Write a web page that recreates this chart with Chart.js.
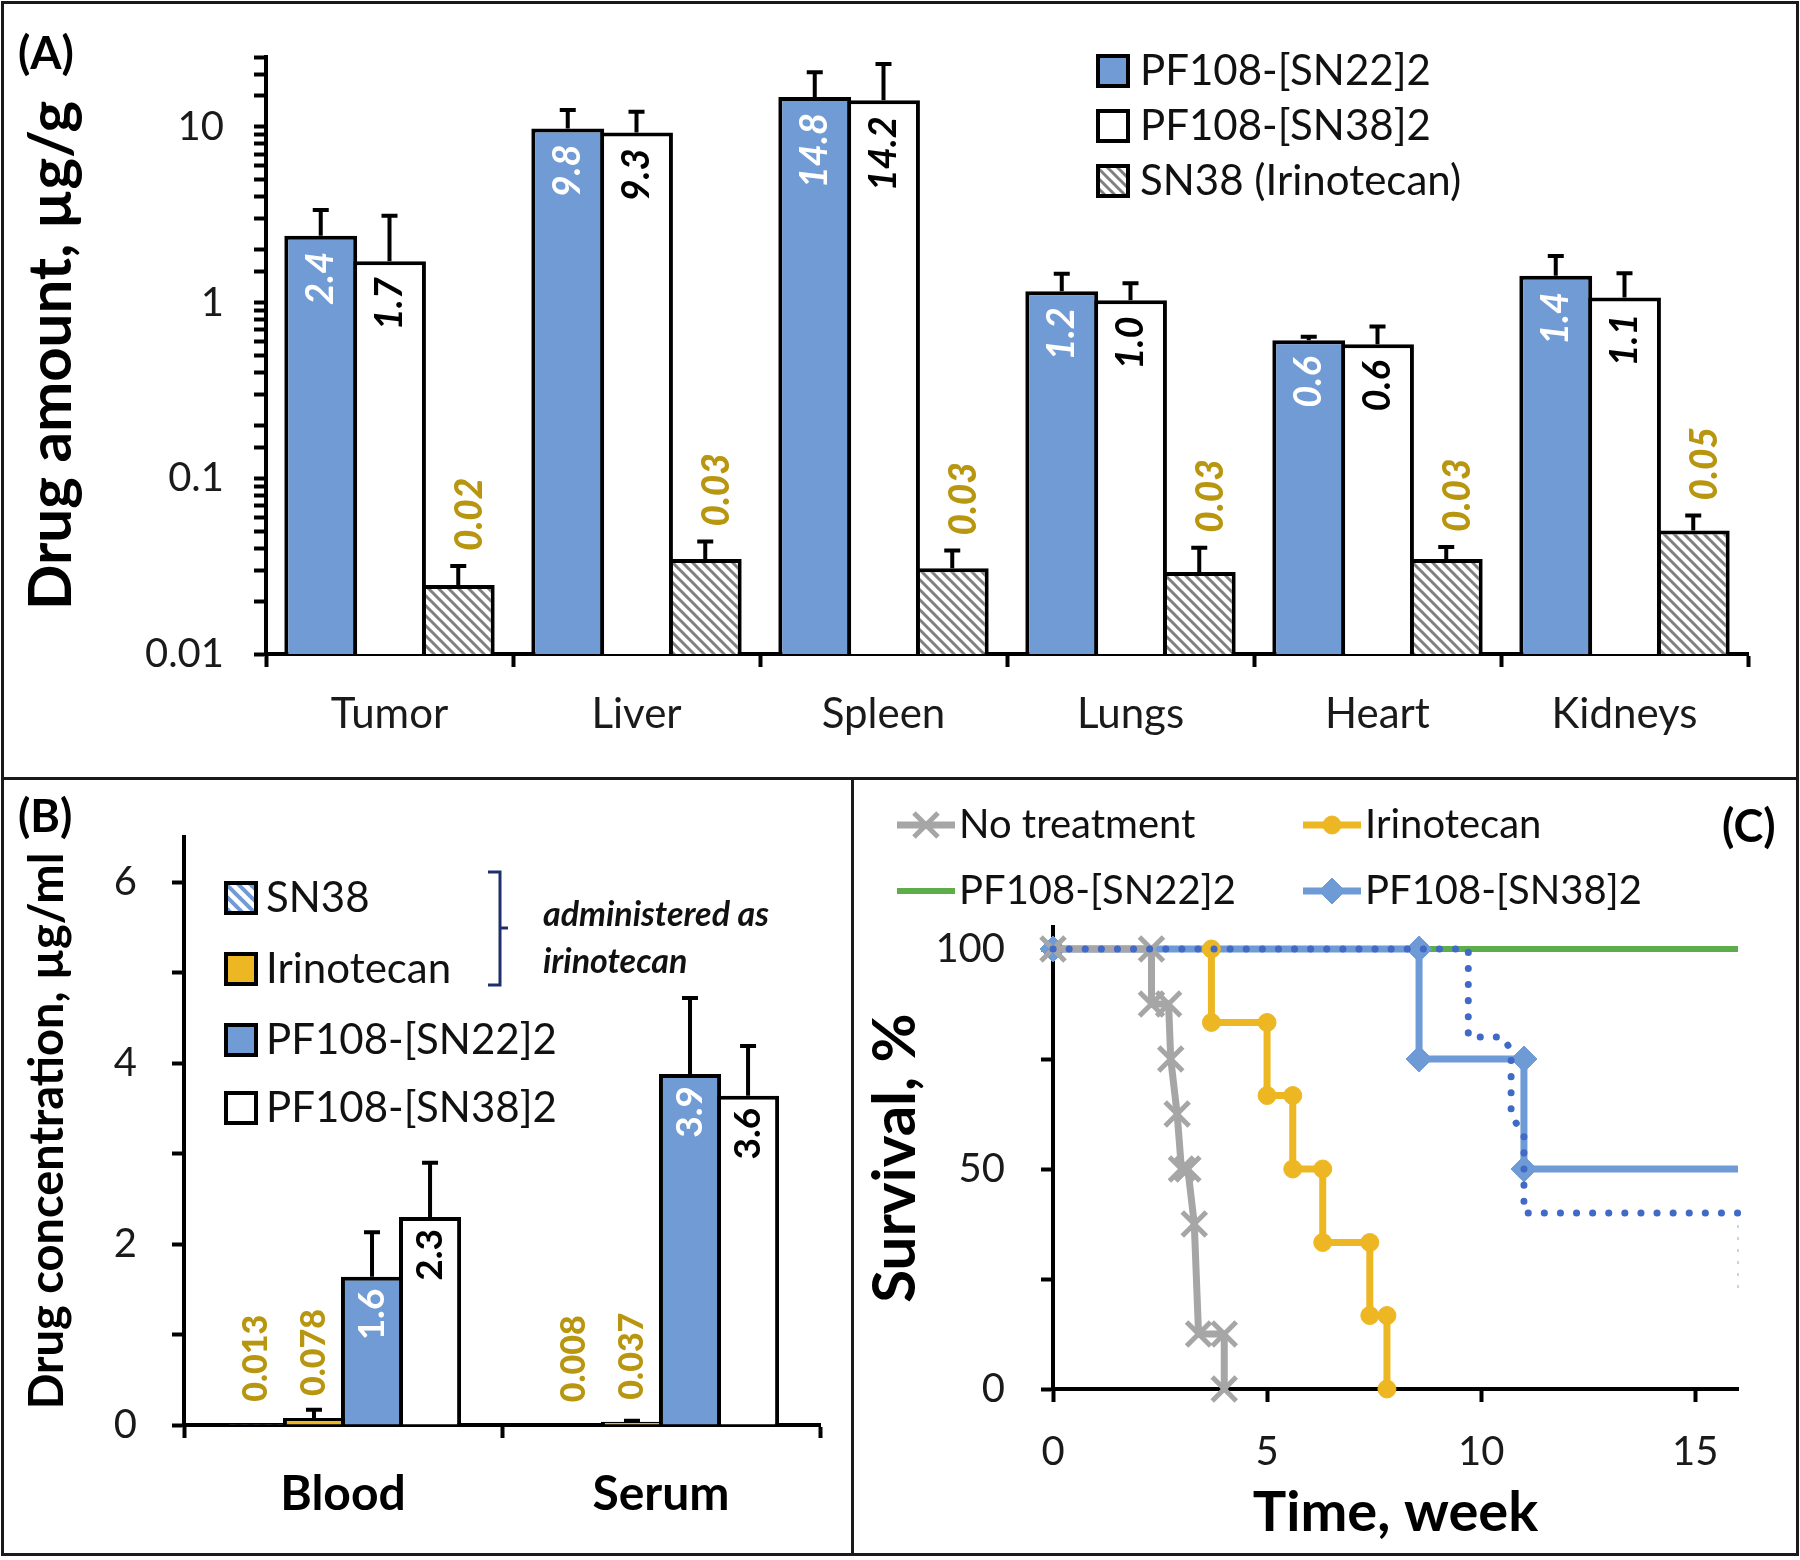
<!DOCTYPE html>
<html>
<head>
<meta charset="utf-8">
<script src="https://cdn.jsdelivr.net/npm/chart.js@4.4.1/dist/chart.umd.min.js"></script>
<style>
html, body { margin: 0; padding: 0; background: #fff; }
#page { position: relative; width: 1800px; height: 1560px; background: #fff; overflow: hidden; }
canvas { position: absolute; }
.frame { position: absolute; border: 3px solid #1a1a1a; box-sizing: border-box; pointer-events: none; }
.tag { position: absolute; font: bold 45px Lato, sans-serif; line-height: 1; color: #000; }
</style>
</head>
<body>
<div id="page">
  <canvas id="chartA" width="1800" height="778" style="left:0;top:0"></canvas>
  <canvas id="chartB" width="851" height="780" style="left:0;top:778px"></canvas>
  <canvas id="chartC" width="949" height="780" style="left:851px;top:778px"></canvas>
  <div class="frame" style="left:1px;top:1px;width:1798px;height:779px"></div>
  <div class="frame" style="left:1px;top:777px;width:853px;height:779px"></div>
  <div class="frame" style="left:851px;top:777px;width:948px;height:779px"></div>
  <div class="tag" style="left:18px;top:30px">(A)</div>
  <div class="tag" style="left:18px;top:793px">(B)</div>
  <div class="tag" style="left:1722px;top:803px">(C)</div>
</div>
<script>
// ---- (A) organ distribution, log scale
const organs = ['Tumor', 'Liver', 'Spleen', 'Lungs', 'Heart', 'Kidneys'];
const seriesA = ['PF108-[SN22]2', 'PF108-[SN38]2', 'SN38 (Irinotecan)'];
const sn22Organ = [2.4, 9.8, 14.8, 1.16, 0.61, 1.42];
const sn22OrganErr = [0.97, 2.7, 5.7, 0.3, 0.03, 0.42];
const sn38Organ = [1.72, 9.3, 14.2, 1.03, 0.58, 1.07];
const sn38OrganErr = [1.4, 2.9, 8.6, 0.26, 0.15, 0.4];
const irinoOrgan = [0.0247, 0.0347, 0.0308, 0.0293, 0.0347, 0.0505];
const irinoOrganErr = [0.007, 0.009, 0.008, 0.011, 0.006, 0.011];
const yTicksA = [0.01, 0.1, 1, 10];

// ---- (B) blood / serum
const fluids = ['Blood', 'Serum'];
const seriesB = ['SN38', 'Irinotecan', 'PF108-[SN22]2', 'PF108-[SN38]2'];
const sn38Fluid = [0.013, 0.008];
const sn38FluidErr = [0, 0];
const irinoFluid = [0.078, 0.037];
const irinoFluidErr = [0.09, 0.01];
const sn22Fluid = [1.64, 3.88];
const sn22FluidErr = [0.49, 0.84];
const pf38Fluid = [2.3, 3.64];
const pf38FluidErr = [0.6, 0.55];
const yTicksB = [0, 2, 4, 6];

// ---- (C) survival
const weeksNone = [0, 2.3, 2.3, 2.7, 2.75, 2.9, 3.0, 3.15, 3.3, 3.4, 4.0, 4.0];
const survNone = [100, 100, 87.5, 87.5, 75, 62.5, 50, 50, 37.5, 12.5, 12.5, 0];
const weeksIrino = [3.7, 3.7, 5.0, 5.0, 5.6, 5.6, 6.3, 6.3, 7.4, 7.4, 7.8, 7.8];
const survIrino = [100, 83.3, 83.3, 66.7, 66.7, 50, 50, 33.3, 33.3, 16.7, 16.7, 0];
const weeksSN22 = [0, 16];
const survSN22 = [100, 100];
const weeksSN38 = [0, 8.55, 8.55, 11, 11, 16];
const survSN38 = [100, 100, 75, 75, 50, 50];
const weeksDotted = [0, 9.7, 9.7, 10.5, 10.7, 10.7, 11, 11, 16];
const survDotted = [100, 100, 80, 80, 77, 62, 58, 40, 40];
const weeksFaint = [16, 16];
const survFaint = [40, 22.5];
const yTicksC = [0, 50, 100];

Chart.defaults.font.family = 'Lato, "Open Sans", sans-serif';
Chart.defaults.color = '#1a1a1a';
Chart.defaults.animation = false;

const BLUE = '#709BD4';
const GOLD = '#EDB723';
const GOLD_TEXT = '#B8960F';

function hatch(fg, bg, size, lw) {
    const c = document.createElement('canvas');
    c.width = c.height = size;
    const g = c.getContext('2d');
    g.fillStyle = bg;
    g.fillRect(0, 0, size, size);
    g.strokeStyle = fg;
    g.lineWidth = lw;
    g.beginPath();
    g.moveTo(-1, -1); g.lineTo(size + 1, size + 1);
    g.moveTo(-1, size - 1); g.lineTo(1, size + 1);
    g.moveTo(size - 1, -1); g.lineTo(size + 1, 1);
    g.stroke();
    return g.createPattern(c, 'repeat');
}

// error bars + rotated value labels
const errorLabels = {
    id: 'errorLabels',
    afterDatasetsDraw(chart) {
        const ctx = chart.ctx, ys = chart.scales.y;
        chart.data.datasets.forEach((ds, di) => {
            const t = ds.tag;
            chart.getDatasetMeta(di).data.forEach((bar, i) => {
                const v = ds.data[i], e = ds.errors[i];
                let top = bar.y;
                if (e > 0) {
                    top = ys.getPixelForValue(v + e);
                    ctx.save();
                    ctx.strokeStyle = '#000';
                    ctx.lineWidth = 4;
                    ctx.beginPath();
                    ctx.moveTo(bar.x, bar.y); ctx.lineTo(bar.x, top);
                    ctx.moveTo(bar.x - 8, top); ctx.lineTo(bar.x + 8, top);
                    ctx.stroke();
                    ctx.restore();
                }
                ctx.save();
                ctx.font = t.font;
                ctx.fillStyle = t.color;
                ctx.textBaseline = 'middle';
                if (t.inside) {
                    ctx.translate(bar.x + t.dx, bar.y + t.gap);
                    ctx.textAlign = 'right';
                } else {
                    const ref = t.fromCap ? Math.min(top, bar.y) : bar.y;
                    ctx.translate(bar.x + t.dx, ref - t.gap);
                    ctx.textAlign = 'left';
                }
                ctx.rotate(-Math.PI / 2);
                ctx.fillText(v.toFixed(t.digits), 0, 0);
                ctx.restore();
            });
        });
    }
};

const boxLegend = {
    id: 'boxLegend',
    afterDraw(chart, args, o) {
        const ctx = chart.ctx;
        chart.data.datasets.forEach((ds, i) => {
            const y = o.rows[i];
            ctx.save();
            ctx.fillStyle = ds.backgroundColor;
            ctx.fillRect(o.x, y - o.size / 2, o.size, o.size);
            ctx.lineWidth = 4;
            ctx.strokeStyle = '#000';
            ctx.strokeRect(o.x, y - o.size / 2, o.size, o.size);
            ctx.font = o.font;
            ctx.fillStyle = '#111';
            ctx.textAlign = 'left';
            ctx.textBaseline = 'middle';
            ctx.fillText(ds.label, o.textX, y);
            ctx.restore();
        });
    }
};

function axisCommon(tl) {
    return {
        grid: { drawOnChartArea: false, drawTicks: true, tickLength: tl, tickWidth: 4, tickColor: '#000' },
        border: { display: true, color: '#000', width: 4 }
    };
}

const hatchGray = hatch('#808080', '#ffffff', 10, 3);
const hatchBlue = hatch(BLUE, '#ffffff', 12, 4);

// ---------------- A
new Chart(document.getElementById('chartA'), {
    type: 'bar',
    data: {
        labels: organs,
        datasets: [
            { label: seriesA[0], data: sn22Organ, errors: sn22OrganErr, backgroundColor: BLUE,
              tag: { inside: true, dx: 0, gap: 16, digits: 1, color: '#fff', font: 'italic bold 38px Lato' } },
            { label: seriesA[1], data: sn38Organ, errors: sn38OrganErr, backgroundColor: '#ffffff',
              tag: { inside: true, dx: 0, gap: 16, digits: 1, color: '#000', font: 'italic bold 38px Lato' } },
            { label: seriesA[2], data: irinoOrgan, errors: irinoOrganErr, backgroundColor: hatchGray,
              tag: { inside: false, fromCap: true, dx: 12, gap: 15, digits: 2, color: GOLD_TEXT, font: 'italic 900 37px Lato' } }
        ].map(d => Object.assign(d, { borderColor: '#000', borderWidth: 4, categoryPercentage: 0.835, barPercentage: 1.06 }))
    },
    options: {
        responsive: false,
        layout: { padding: { left: 20, top: 57, right: 52, bottom: 0 } },
        plugins: {
            legend: { display: false },
            tooltip: { enabled: false },
            boxLegend: { x: 1098, rows: [71, 126, 181], size: 30, textX: 1140, font: '42px Lato' }
        },
        scales: {
            x: Object.assign(axisCommon(13), {
                offset: true,
                ticks: { font: { size: 42 }, color: '#1a1a1a', padding: 22, autoSkip: false, maxRotation: 0 },
                afterFit: s => { s.height = 124; }
            }),
            y: Object.assign(axisCommon(12), {
                type: 'logarithmic',
                min: 0.01,
                max: 25,
                ticks: {
                    autoSkip: false,
                    font: { size: 40 },
                    color: '#1a1a1a',
                    padding: 30,
                    callback: v => {
                        const t = yTicksA.find(k => Math.abs(v - k) / k < 1e-6);
                        return t === undefined ? '' : String(t);
                    }
                },
                title: { display: true, text: 'Drug amount, µg/g', color: '#000',
                         font: { size: 60, weight: 'bold', lineHeight: 1 }, padding: { top: 2, bottom: 0 } },
                afterFit: s => { s.width = 246; }
            })
        }
    },
    plugins: [errorLabels, boxLegend]
});

// ---------------- B
const noteB = {
    id: 'noteB',
    afterDraw(chart) {
        const ctx = chart.ctx;
        ctx.save();
        ctx.strokeStyle = '#1F2F6E';
        ctx.lineWidth = 3;
        ctx.beginPath();
        ctx.moveTo(488, 94); ctx.lineTo(500, 94); ctx.lineTo(500, 207); ctx.lineTo(488, 207);
        ctx.moveTo(500, 150); ctx.lineTo(508, 150);
        ctx.stroke();
        ctx.font = 'italic bold 34px Lato';
        ctx.fillStyle = '#111';
        ctx.textBaseline = 'middle';
        ctx.fillText('administered as', 543, 137);
        ctx.fillText('irinotecan', 543, 184);
        ctx.restore();
    }
};

new Chart(document.getElementById('chartB'), {
    type: 'bar',
    data: {
        labels: fluids,
        datasets: [
            { label: seriesB[0], data: sn38Fluid, errors: sn38FluidErr, backgroundColor: hatchBlue,
              tag: { inside: false, dx: 0, gap: 22, digits: 3, color: GOLD_TEXT, font: '900 34px Lato' } },
            { label: seriesB[1], data: irinoFluid, errors: irinoFluidErr, backgroundColor: GOLD,
              tag: { inside: false, dx: 0, gap: 22, digits: 3, color: GOLD_TEXT, font: '900 34px Lato' } },
            { label: seriesB[2], data: sn22Fluid, errors: sn22FluidErr, backgroundColor: BLUE,
              tag: { inside: true, dx: 0, gap: 12, digits: 1, color: '#fff', font: 'bold 37px Lato' } },
            { label: seriesB[3], data: pf38Fluid, errors: pf38FluidErr, backgroundColor: '#ffffff',
              tag: { inside: true, dx: 0, gap: 12, digits: 1, color: '#000', font: 'bold 37px Lato' } }
        ].map(d => Object.assign(d, { borderColor: '#000', borderWidth: 4, categoryPercentage: 0.73, barPercentage: 1.07 }))
    },
    options: {
        responsive: false,
        layout: { padding: { left: 20, top: 52, right: 31, bottom: 0 } },
        plugins: {
            legend: { display: false },
            tooltip: { enabled: false },
            boxLegend: { x: 226, rows: [120, 191, 262, 330], size: 30, textX: 266, font: '42px Lato' }
        },
        scales: {
            x: Object.assign(axisCommon(13), {
                offset: true,
                ticks: { font: { size: 48, weight: 'bold' }, color: '#000', padding: 28, maxRotation: 0 },
                afterFit: s => { s.height = 133; }
            }),
            y: Object.assign(axisCommon(12), {
                min: 0,
                max: 6.5,
                ticks: {
                    stepSize: 1,
                    includeBounds: false,
                    autoSkip: false,
                    font: { size: 40 },
                    color: '#1a1a1a',
                    padding: 35,
                    callback: v => yTicksB.includes(v) ? String(v) : ''
                },
                title: { display: true, text: 'Drug concentration, µg/ml', color: '#000',
                         font: { size: 47, weight: 'bold', lineHeight: 1 }, padding: { top: 4, bottom: 0 } },
                afterFit: s => { s.width = 164; }
            })
        }
    },
    plugins: [errorLabels, boxLegend, noteB]
});

// ---------------- C
const pts = (xs, ys) => xs.map((x, i) => ({ x: x, y: ys[i] }));

const lineLegend = {
    id: 'lineLegend',
    afterDraw(chart, args, o) {
        const ctx = chart.ctx;
        o.items.forEach((di, k) => {
            const ds = chart.data.datasets[di];
            const x = o.cols[k % 2], y = o.rows[Math.floor(k / 2)];
            ctx.save();
            ctx.strokeStyle = ds.borderColor;
            ctx.lineWidth = ds.borderWidth;
            ctx.beginPath();
            ctx.moveTo(x, y); ctx.lineTo(x + o.len, y);
            ctx.stroke();
            const r = Array.isArray(ds.pointRadius) ? ds.pointRadius[0] : ds.pointRadius;
            if (r > 0) {
                ctx.fillStyle = ds.pointBackgroundColor;
                ctx.strokeStyle = ds.pointBorderColor;
                ctx.lineWidth = ds.pointBorderWidth;
                Chart.helpers.drawPoint(ctx, { pointStyle: ds.pointStyle, radius: r, borderWidth: ds.pointBorderWidth, rotation: 0 }, x + o.len / 2, y);
            }
            ctx.font = o.font;
            ctx.fillStyle = '#111';
            ctx.textAlign = 'left';
            ctx.textBaseline = 'middle';
            ctx.fillText(ds.label, x + o.len + 4, y);
            ctx.restore();
        });
    }
};

new Chart(document.getElementById('chartC'), {
    type: 'line',
    data: {
        datasets: [
            { label: 'No treatment', data: pts(weeksNone, survNone), borderColor: '#A6A6A6', borderWidth: 7,
              pointStyle: 'crossRot', pointRadius: 17, pointBorderWidth: 5, pointBorderColor: '#A6A6A6',
              pointBackgroundColor: '#A6A6A6', order: 2, clip: false },
            { label: 'Irinotecan', data: pts(weeksIrino, survIrino), borderColor: GOLD, borderWidth: 7,
              pointStyle: 'circle', pointRadius: 9, pointBorderWidth: 1, pointBorderColor: GOLD,
              pointBackgroundColor: GOLD, order: 1, clip: false },
            { label: 'PF108-[SN22]2', data: pts(weeksSN22, survSN22), borderColor: '#5DAE4A', borderWidth: 6,
              pointRadius: 0, order: 4, clip: false },
            { label: 'PF108-[SN38]2', data: pts(weeksSN38, survSN38), borderColor: '#6E9AD6', borderWidth: 7,
              pointStyle: 'rectRot', pointRadius: [13, 13, 13, 13, 13, 0], pointBorderWidth: 1,
              pointBorderColor: '#6E9AD6', pointBackgroundColor: '#6E9AD6', order: 3, clip: false },
            { label: '', data: pts(weeksDotted, survDotted), borderColor: '#4169C6', borderWidth: 7,
              borderDash: [0.1, 16], borderCapStyle: 'round', pointRadius: 0, order: 0, clip: false },
            { label: '', data: pts(weeksFaint, survFaint), borderColor: '#B8C4DC', borderWidth: 1.5,
              borderDash: [3, 9], pointRadius: 0, order: 5, clip: false }
        ]
    },
    options: {
        responsive: false,
        layout: { padding: { left: 15, top: 149, right: 62, bottom: 0 } },
        plugins: {
            legend: { display: false },
            tooltip: { enabled: false },
            lineLegend: { items: [0, 1, 2, 3], cols: [46, 452], rows: [47, 113], len: 58, font: '40px Lato' }
        },
        scales: {
            x: Object.assign(axisCommon(13), {
                type: 'linear',
                min: 0,
                max: 16,
                ticks: { stepSize: 5, includeBounds: false, font: { size: 40 }, color: '#1a1a1a', padding: 26, maxRotation: 0 },
                title: { display: true, text: 'Time, week', color: '#000',
                         font: { size: 56, weight: 'bold', lineHeight: 1 }, padding: { top: 0, bottom: 17 } },
                afterFit: s => { s.height = 169; }
            }),
            y: Object.assign(axisCommon(12), {
                min: 0,
                max: 105,
                ticks: {
                    stepSize: 25,
                    includeBounds: false,
                    autoSkip: false,
                    font: { size: 40 },
                    color: '#1a1a1a',
                    padding: 36,
                    callback: v => yTicksC.includes(v) ? String(v) : ''
                },
                title: { display: true, text: 'Survival, %', color: '#000',
                         font: { size: 60, weight: 'bold', lineHeight: 1 }, padding: { top: 0, bottom: 0 } },
                afterFit: s => { s.width = 187; }
            })
        }
    },
    plugins: [lineLegend]
});
</script>
</body>
</html>
